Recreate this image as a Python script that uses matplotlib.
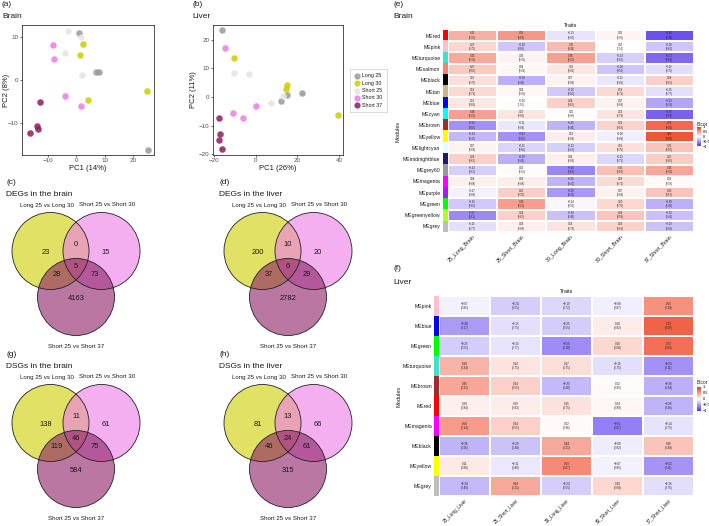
import numpy as np
import matplotlib
matplotlib.use('Agg')
import matplotlib.pyplot as plt
from matplotlib.colors import LinearSegmentedColormap, Normalize, to_rgb
from matplotlib.cm import ScalarMappable
from matplotlib.patches import Circle

plt.rcParams['font.family'] = ['Liberation Sans', 'DejaVu Sans']
plt.rcParams['axes.unicode_minus'] = True

# ---------------- data ----------------
groups = ['Long 25', 'Long 30', 'Short 25', 'Short 30', 'Short 37']
group_colors = ['#999999', '#CDCD00', '#E5E5E5', '#EE7AE9', '#8B1C62']

sample_group = (['Long 25'] * 4 + ['Long 30'] * 4 + ['Short 25'] * 4 +
                ['Short 30'] * 4 + ['Short 37'] * 4)
brain_pc1 = [1.1, 7.1, 8.2, 25.4, 2.5, 1.5, 24.9, 4.3, -2.9, 1.6, -4.0, 2.0,
             -8.2, -7.8, -4.0, 1.6, -12.9, -13.9, -13.5, -16.4]
brain_pc2 = [10.9, 1.8, 1.9, -16.3, 8.5, 5.8, -2.6, -4.7, 11.4, 10.1, 6.3, 1.2,
             8.1, 4.8, -3.6, -6.0, -5.1, -10.7, -11.3, -12.3]
liver_pc1 = [-16.5, 15.0, 22.1, 12.0, -10.3, 15.0, 14.7, 39.4, -10.3, -3.4, 7.2, 13.1,
             -15.0, 0.3, -11.2, -6.3, -17.9, -17.0, -17.6, -16.2]
liver_pc2 = [23.3, 0.6, 1.4, -1.3, 13.6, 4.3, 2.8, -6.3, 8.4, 7.9, -2.0, 0.2,
             17.2, -3.3, -5.6, -7.2, -7.2, -12.9, -15.2, -18.2]

venn_sets = ['Long 25 vs Long 30', 'Short 25 vs Short 30', 'Short 25 vs Short 37']
venn_colors = ['#CDCD00', '#EE7AE9', '#8B1C62']
# order: A only, B only, C only, A&B, A&C, B&C, A&B&C
deg_brain = [23, 15, 4163, 0, 28, 73, 5]
deg_liver = [200, 20, 2782, 10, 37, 29, 6]
dsg_brain = [138, 61, 584, 11, 119, 75, 46]
dsg_liver = [81, 66, 315, 13, 46, 61, 24]

module_color = {
    'MEred': '#FF0000', 'MEpink': '#FFC0CB', 'MEturquoise': '#40E0D0',
    'MEsalmon': '#FA8072', 'MEblack': '#000000', 'MEtan': '#D2B48C',
    'MEblue': '#0000FF', 'MEcyan': '#00FFFF', 'MEbrown': '#A52A2A',
    'MEyellow': '#FFFF00', 'MElightcyan': '#E0FFFF', 'MEmidnightblue': '#191970',
    'MEgrey60': '#999999', 'MEmagenta': '#FF00FF', 'MEpurple': '#A020F0',
    'MEgreen': '#00FF00', 'MEgreenyellow': '#ADFF2F', 'MEgrey': '#BEBEBE'}

brain_modules = ['MEred', 'MEpink', 'MEturquoise', 'MEsalmon', 'MEblack', 'MEtan',
                 'MEblue', 'MEcyan', 'MEbrown', 'MEyellow', 'MElightcyan',
                 'MEmidnightblue', 'MEgrey60', 'MEmagenta', 'MEpurple', 'MEgreen',
                 'MEgreenyellow', 'MEgrey']
brain_traits = ['25_Long_Brain', '25_Short_Brain', '30_Long_Brain',
                '30_Short_Brain', '37_Short_Brain']
brain_bicor = [
    [0.41, 0.52, -0.13, 0.05, -0.84],
    [0.20, -0.28, 0.35, 0.00, -0.28],
    [0.43, 0.06, 0.48, -0.23, -0.73],
    [0.27, 0.04, 0.13, -0.28, -0.16],
    [0.16, -0.38, 0.07, -0.12, 0.24],
    [0.19, 0.04, -0.26, 0.19, -0.15],
    [0.12, -0.0, 0.24, 0.07, -0.43],
    [0.48, 0.13, 0.01, 0.14, -0.76],
    [-0.53, -0.11, -0.36, 0.22, 0.76],
    [-0.34, -0.53, 0.10, -0.08, 0.86],
    [0.07, -0.21, -0.23, 0.16, 0.31],
    [0.24, -0.39, 0.08, -0.19, 0.25],
    [-0.23, 0.02, -0.58, 0.32, 0.45],
    [0.08, 0.09, -0.36, 0.18, 0.03],
    [-0.07, 0.25, -0.50, 0.07, 0.30],
    [-0.26, 0.49, -0.04, 0.20, -0.38],
    [-0.57, 0.24, -0.30, 0.29, -0.30],
    [-0.15, 0.08, 0.14, 0.23, -0.29]]
brain_pval = [
    [0.35, 0.18, 0.82, 0.91, 0.00],
    [0.75, 0.60, 0.45, 1.00, 0.60],
    [0.31, 0.91, 0.25, 0.62, 0.01],
    [0.60, 0.91, 0.82, 0.60, 0.75],
    [0.75, 0.45, 0.88, 0.83, 0.62],
    [0.71, 0.91, 0.60, 0.71, 0.77],
    [0.83, 1.00, 0.62, 0.88, 0.32],
    [0.25, 0.82, 0.98, 0.79, 0.00],
    [0.16, 0.84, 0.45, 0.63, 0.00],
    [0.47, 0.16, 0.88, 0.88, 0.00],
    [0.88, 0.66, 0.62, 0.75, 0.50],
    [0.62, 0.41, 0.88, 0.71, 0.60],
    [0.62, 0.96, 0.10, 0.50, 0.33],
    [0.88, 0.88, 0.41, 0.71, 0.93],
    [0.88, 0.70, 0.20, 0.88, 0.57],
    [0.60, 0.25, 0.91, 0.70, 0.41],
    [0.12, 0.62, 0.45, 0.58, 0.41],
    [0.77, 0.88, 0.79, 0.63, 0.58]]

liver_modules = ['MEpink', 'MEblue', 'MEgreen', 'MEturquoise', 'MEbrown', 'MEred',
                 'MEmagenta', 'MEblack', 'MEyellow', 'MEgrey']
liver_traits = ['25_Long_Liver', '25_Short_Liver', '30_Long_Liver',
                '30_Short_Liver', '37_Short_Liver']
liver_bicor = [
    [-0.07, -0.24, -0.19, -0.08, 0.56],
    [-0.48, -0.15, -0.25, 0.10, 0.79],
    [-0.25, -0.13, -0.55, 0.20, 0.73],
    [0.38, 0.14, 0.17, -0.16, -0.53],
    [0.45, 0.24, -0.33, 0.02, -0.38],
    [0.08, 0.09, 0.15, 0.04, -0.36],
    [0.50, 0.24, 0.02, -0.61, -0.14],
    [-0.36, -0.29, 0.44, -0.09, 0.30],
    [0.11, -0.11, 0.59, -0.07, -0.52],
    [-0.34, 0.44, -0.24, 0.20, -0.16]]
liver_pval = [
    [0.85, 0.55, 0.72, 0.87, 0.10],
    [0.17, 0.75, 0.55, 0.82, 0.00],
    [0.55, 0.77, 0.10, 0.68, 0.01],
    [0.34, 0.75, 0.75, 0.75, 0.11],
    [0.21, 0.55, 0.40, 0.95, 0.34],
    [0.84, 0.82, 0.75, 0.89, 0.36],
    [0.14, 0.55, 0.96, 0.07, 0.75],
    [0.36, 0.48, 0.21, 0.82, 0.48],
    [0.80, 0.80, 0.07, 0.85, 0.11],
    [0.40, 0.21, 0.55, 0.68, 0.75]]

# ---------------- figure ----------------
W, H = 709, 526
fig = plt.figure(figsize=(W / 100, H / 100), dpi=100)
fig.patch.set_facecolor('white')

TXT = '#1a1a1a'
TICK = '#4D4D4D'
cmap = LinearSegmentedColormap.from_list('bicor', ['#5230ED', '#FFFFFF', '#EE3A1A'])
norm = Normalize(-1, 1)


def px_axes(x0, y0, x1, y1):
    return fig.add_axes([x0 / W, 1 - y1 / H, (x1 - x0) / W, (y1 - y0) / H])


def ftext(x, y, s, **kw):
    kw.setdefault('color', TXT)
    return fig.text(x / W, 1 - y / H, s, **kw)


def pca_panel(box, pc1, pc2, xlim, ylim, xticks, yticks, xlabel, ylabel, xl_pos, yl_pos):
    ax = px_axes(*box)
    for g, c in zip(groups, group_colors):
        xs = [x for x, gg in zip(pc1, sample_group) if gg == g]
        ys = [y for y, gg in zip(pc2, sample_group) if gg == g]
        ax.scatter(xs, ys, s=22, color=c, alpha=0.85, linewidths=0, zorder=3)
    ax.set_xlim(*xlim)
    ax.set_ylim(*ylim)
    ax.set_xticks(xticks)
    ax.set_yticks(yticks)
    ax.tick_params(labelsize=4.5, labelcolor=TICK, color='#333333', length=1.5,
                   width=0.5, pad=1)
    for sp in ax.spines.values():
        sp.set_color('#333333')
        sp.set_linewidth(0.6)
    ftext(xl_pos[0], xl_pos[1], xlabel, fontsize=5.5, ha='center', va='center')
    ftext(yl_pos[0], yl_pos[1], ylabel, fontsize=5.5, ha='center', va='center',
          rotation=90)
    return ax


# (a) and (b)
ftext(2, 5, '(a)', fontsize=6, va='center')
ftext(2, 17, 'Brain', fontsize=6, va='center')
pca_panel((22, 25, 154, 155), brain_pc1, brain_pc2, (-19.1, 27.4), (-17.4, 12.8),
          [-10, 0, 10, 20], [-10, 0, 10], 'PC1 (14%)', 'PC2 (8%)', (88, 169), (6, 90))

ftext(192, 5, '(b)', fontsize=6, va='center')
ftext(192, 17, 'Liver', fontsize=6, va='center')
pca_panel((213, 25, 343, 155), liver_pc1, liver_pc2, (-20.6, 41.9), (-20.3, 25.2),
          [-20, 0, 20, 40], [-20, -10, 0, 10, 20], 'PC1 (26%)', 'PC2 (11%)',
          (278, 169), (193, 90))

# legend for PCA
lax = px_axes(350, 69, 387, 112)
lax.set_xlim(350, 387)
lax.set_ylim(112, 69)
lax.set_xticks([])
lax.set_yticks([])
for sp in lax.spines.values():
    sp.set_color('#CCCCCC')
    sp.set_linewidth(0.5)
for k, (g, c) in enumerate(zip(groups, group_colors)):
    yy = 76 + k * 7.3
    lax.scatter([357.3], [yy], s=20, color=c, alpha=0.85, linewidths=0)
    lax.text(362.5, yy, g, fontsize=3.8, va='center', ha='left', color=TXT)


# Venn diagrams
def venn_panel(cx, cy, counts, tag, title, tag_x):
    ftext(tag_x, cy - 68, tag, fontsize=6, va='center')
    ftext(tag_x, cy - 56.5, title, fontsize=6, va='center')
    ax = px_axes(cx - 75, cy - 55, cx + 75, cy + 102)
    ax.set_xlim(-75, 75)
    ax.set_ylim(102, -55)
    ax.axis('off')
    centers = [(-25.5, 0), (25.5, 0), (0, 46)]
    r = 38.5
    for (x, y), c in zip(centers, venn_colors):
        ax.add_patch(Circle((x, y), r, facecolor=c, alpha=0.6, edgecolor='none'))
    for (x, y) in centers:
        ax.add_patch(Circle((x, y), r, facecolor='none', edgecolor='#222222', lw=0.6))
    offsets = [(-30, 1), (30, 1), (0, 47), (0, -6), (-19, 24), (19, 24), (0, 16)]
    for (dx, dy), n in zip(offsets, counts):
        ax.text(dx, dy, str(n), ha='center', va='center', fontsize=5.4, color=TXT)
    ax.text(-29, -46, venn_sets[0], ha='center', va='center', fontsize=4.4, color=TXT)
    ax.text(31, -46, venn_sets[1], ha='center', va='center', fontsize=4.4, color=TXT)
    ax.text(0, 95.5, venn_sets[2], ha='center', va='center', fontsize=4.4, color=TXT)


venn_panel(76, 251, deg_brain, '(c)', 'DEGs in the brain', 6)
venn_panel(288, 251, deg_liver, '(d)', 'DEGs in the liver', 219)
venn_panel(76, 423, dsg_brain, '(g)', 'DSGs in the brain', 6)
venn_panel(288, 423, dsg_liver, '(h)', 'DSGs in the liver', 219)


# Heatmaps
def heat_panel(x0, y0, x1, y1, sx0, modules, traits, bicor, pval, cell_fs, lab_fs):
    vals = np.array(bicor, dtype=float)
    pv = np.array(pval, dtype=float)
    nr, nc = vals.shape
    ax = px_axes(x0, y0, x1, y1)
    ax.pcolormesh(np.arange(nc + 1), np.arange(nr + 1), vals, cmap=cmap, norm=norm,
                  edgecolors='white', linewidth=0.3)
    ax.set_xlim(0, nc)
    ax.set_ylim(nr, 0)
    for i in range(nr):
        for j in range(nc):
            s = f"{vals[i, j]:.2f}\n({pv[i, j]:.2f})".replace('-', '\u2212')
            ax.text(j + 0.5, i + 0.5, s, ha='center', va='center', fontsize=cell_fs,
                    color='#222222', linespacing=1.1)
    for sp in ax.spines.values():
        sp.set_visible(False)
    ax.set_yticks([])
    ax.set_xticks(np.arange(nc) + 0.5)
    ax.set_xticklabels(traits, rotation=45, ha='right', rotation_mode='anchor',
                       fontsize=lab_fs, color=TXT)
    ax.tick_params(axis='x', length=0, pad=1.5)
    sax = px_axes(sx0, y0, x0 - 0.5, y1)
    rgb = np.array([to_rgb(module_color[m]) for m in modules])[:, None, :]
    sax.imshow(rgb, aspect='auto', interpolation='nearest', extent=(0, 1, nr, 0))
    sax.set_xlim(0, 1)
    sax.set_ylim(nr, 0)
    sax.set_xticks([])
    sax.set_yticks(np.arange(nr) + 0.5)
    sax.set_yticklabels(modules, fontsize=3.7, color=TXT)
    sax.tick_params(axis='y', length=0, pad=1.5)
    for sp in sax.spines.values():
        sp.set_visible(False)
    ftext((x0 + x1) / 2, y0 - 4.5, 'Traits', fontsize=4, ha='center', va='center')
    return ax


def bicor_legend(x0, y0, x1, y1, ty):
    cax = px_axes(x0, y0, x1, y1)
    cb = fig.colorbar(ScalarMappable(norm=norm, cmap=cmap), cax=cax,
                      ticks=[-1, -0.5, 0, 0.5, 1])
    cb.set_ticklabels(['\u22121', '\u22120.5', '0', '0.5', '1'])
    cb.ax.tick_params(labelsize=2.8, length=0, pad=1)
    cb.outline.set_visible(False)
    ftext(x0, ty, 'Bicor', fontsize=3.5, ha='left', va='center')


ftext(393, 5, '(e)', fontsize=6, va='center')
ftext(393, 17, 'Brain', fontsize=6, va='center')
heat_panel(448, 30, 694, 232, 442.5, brain_modules, brain_traits, brain_bicor,
           brain_pval, 1.9, 3.8)
ftext(398, 131, 'Modules', fontsize=4, ha='center', va='center', rotation=90)
bicor_legend(697, 127, 701, 146, 124)

ftext(393, 269, '(f)', fontsize=6, va='center')
ftext(393, 282, 'Liver', fontsize=6, va='center')
heat_panel(439, 296, 694, 496, 434, liver_modules, liver_traits, liver_bicor,
           liver_pval, 2.2, 3.4)
ftext(399, 396, 'Modules', fontsize=4, ha='center', va='center', rotation=90)
bicor_legend(697, 387, 701, 411, 383)

fig.savefig('out.png', dpi=100, facecolor='white')
